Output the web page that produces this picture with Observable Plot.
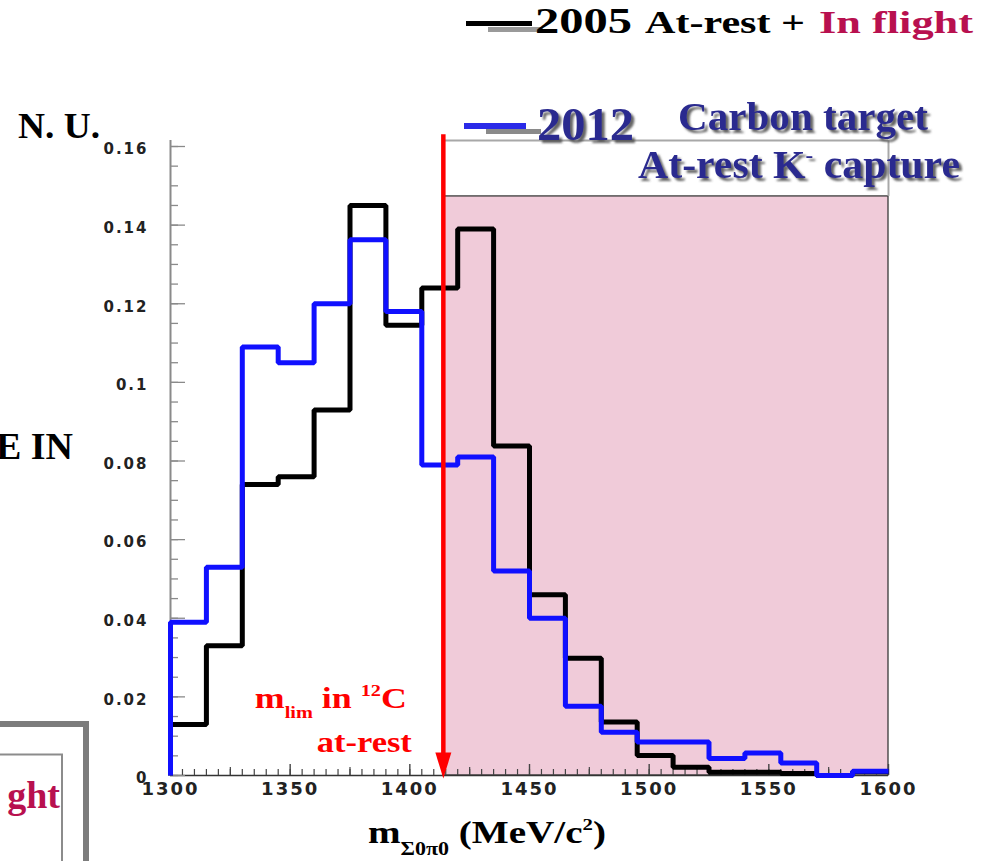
<!DOCTYPE html>
<html>
<head>
<meta charset="utf-8">
<script src="https://cdn.jsdelivr.net/npm/d3@7"></script>
<script src="https://cdn.jsdelivr.net/npm/@observablehq/plot@0.6"></script>
<style>
  html, body { margin: 0; padding: 0; background: #fff; }
  #chart { position: relative; width: 990px; height: 861px; overflow: hidden; background: #fff; }
  #chart svg { position: absolute; left: 0; top: 0; }
</style>
</head>
<body>
<div id="chart"></div>
<script>
// Σ0π0 invariant-mass spectra, 15 MeV/c² bins, normalised units
const binStart = [1300, 1315, 1330, 1345, 1360, 1375, 1390, 1405, 1420, 1435,
                  1450, 1465, 1480, 1495, 1510, 1525, 1540, 1555, 1570, 1585];
const binEnd = 1600;
const spectrum2005 = [0.013, 0.033, 0.074, 0.076, 0.093, 0.145, 0.1145, 0.124, 0.139, 0.0838,
                      0.046, 0.0298, 0.0136, 0.0051, 0.0021, 0.0008, 0.0008, 0.0005, 0, 0.001];
const spectrum2012 = [0.039, 0.053, 0.109, 0.105, 0.120, 0.1363, 0.118, 0.079, 0.081, 0.052,
                      0.040, 0.0176, 0.011, 0.0085, 0.0085, 0.0043, 0.0057, 0.0032, 0, 0.0011];

// kinematic limit for at-rest K- capture in 12C and the shaded region above it
const mLim = 1414;
const shadeTop = 0.1473;
const frameTop = 0.1615;
const arrowTop = 0.163;

// axes
const xTickLabels = [1300, 1350, 1400, 1450, 1500, 1550, 1600];
const xMidTicks = [1325, 1375, 1425, 1475, 1525, 1575];
const xMinorTicks = d3.range(1300, 1600.1, 5);
const yTickLabels = [0, 0.02, 0.04, 0.06, 0.08, 0.1, 0.12, 0.14, 0.16];
const yMinorTicks = d3.range(0, 0.16001, 0.005);

// histogram outline as a step path starting from zero at the left edge
function outline(values) {
  return [{x: binStart[0], y: 0},
          ...binStart.map((x, i) => ({x, y: values[i]})),
          {x: binEnd, y: values[values.length - 1]}];
}

// downward arrowhead with its tip at the anchor point
const arrowHead = {
  draw(context) {
    context.moveTo(0, 0);
    context.lineTo(-8, -26);
    context.lineTo(8, -26);
    context.closePath();
  }
};

const sans = "'DejaVu Sans', Verdana, sans-serif";

const plot = Plot.plot({
  width: 990,
  height: 861,
  marginLeft: 170,
  marginRight: 102,
  marginTop: 146,
  marginBottom: 86,
  x: {domain: [1300, 1600], axis: null},
  y: {domain: [0, 0.16], axis: null},
  style: {background: "transparent", overflow: "visible"},
  marks: [
    // shaded region above the limit
    Plot.rect([{x1: mLim, x2: binEnd, y1: 0, y2: shadeTop}],
      {x1: "x1", x2: "x2", y1: "y1", y2: "y2", fill: "#f0cbd9", stroke: "#3a3a3a", strokeWidth: 1.3}),
    // frame pieces
    Plot.ruleY([frameTop], {x1: mLim, x2: binEnd, stroke: "#a8a8a8", strokeWidth: 2}),
    Plot.ruleX([binEnd], {y1: shadeTop, y2: frameTop, stroke: "#a8a8a8", strokeWidth: 2}),
    Plot.ruleX([1300], {y1: 0, y2: frameTop, stroke: "#8a8a8a", strokeWidth: 2}),
    Plot.ruleY([0], {x1: 1300, x2: binEnd, stroke: "#333", strokeWidth: 1.6}),
    // x ticks (inward)
    Plot.ruleX(xMinorTicks, {x: d => d, y1: 0, y2: 0, insetTop: -6, stroke: "#444", strokeWidth: 1.2}),
    Plot.ruleX(xMidTicks, {x: d => d, y1: 0, y2: 0, insetTop: -8, stroke: "#444", strokeWidth: 1.2}),
    Plot.ruleX(xTickLabels, {x: d => d, y1: 0, y2: 0, insetTop: -11, stroke: "#444", strokeWidth: 1.4}),
    // y ticks (inward)
    Plot.ruleY(yMinorTicks, {y: d => d, x1: 1300, x2: 1300, insetRight: -8, stroke: "#8a8a8a", strokeWidth: 1.3}),
    Plot.ruleY(yTickLabels, {y: d => d, x1: 1300, x2: 1300, insetRight: -15, stroke: "#8a8a8a", strokeWidth: 1.3}),
    // spectra
    Plot.line(outline(spectrum2005), {x: "x", y: "y", curve: "step-after", stroke: "#000",
      strokeWidth: 5, strokeLinejoin: "miter", strokeLinecap: "butt"}),
    Plot.line(outline(spectrum2012), {x: "x", y: "y", curve: "step-after", stroke: "#1010ff",
      strokeWidth: 5, strokeLinejoin: "miter", strokeLinecap: "butt"}),
    // limit arrow
    Plot.ruleX([mLim], {y1: 0.005, y2: arrowTop, stroke: "#f00", strokeWidth: 4.5}),
    Plot.dot([mLim], {x: d => d, y: 0, symbol: arrowHead, fill: "#f00", stroke: "none", dy: 3}),
    // tick labels
    Plot.text(yTickLabels, {x: 1300, y: d => d, text: d => String(d), dx: -22, dy: 3,
      textAnchor: "end", fontFamily: sans, fontWeight: "bold", fontSize: 15, fill: "#222"}),
    Plot.text(xTickLabels, {x: d => d, y: 0, text: d => String(d), dy: 14,
      fontFamily: sans, fontWeight: "bold", fontSize: 18, fill: "#222"})
  ]
});

d3.select(plot).selectAll('g[aria-label="text"] text').attr("letter-spacing", 2);

const chart = document.getElementById("chart");
chart.appendChild(plot);

// ---- annotation layer ----
const xs = plot.scale("x"), ys = plot.scale("y");
const serif = "'Liberation Serif', 'Times New Roman', serif";
const navy = "#2b2b8f";
const crimson = "#b8104f";

const ov = d3.create("svg")
  .attr("width", 990).attr("height", 861)
  .attr("viewBox", "0 0 990 861")
  .style("pointer-events", "none");

ov.append("defs").append("filter").attr("id", "shadow")
  .attr("x", "-10%").attr("y", "-30%").attr("width", "130%").attr("height", "170%")
  .append("feDropShadow")
  .attr("dx", 3).attr("dy", 3).attr("stdDeviation", 1)
  .attr("flood-color", "#555").attr("flood-opacity", 0.9);

function txt(g, x, y, s, o = {}) {
  const t = g.append("text")
    .attr("x", x).attr("y", y)
    .attr("font-family", o.family || serif)
    .attr("font-size", o.size || 30)
    .attr("font-weight", o.weight || "bold")
    .attr("fill", o.fill || "#000");
  if (o.anchor) t.attr("text-anchor", o.anchor);
  if (o.len) t.attr("textLength", o.len).attr("lengthAdjust", "spacingAndGlyphs");
  if (o.filter) t.attr("filter", o.filter);
  if (s != null) t.text(s);
  return t;
}

// top legend: 2005 data
ov.append("rect").attr("x", 488).attr("y", 27).attr("width", 55).attr("height", 5).attr("fill", "#9a9a9a");
ov.append("rect").attr("x", 466).attr("y", 21).attr("width", 66).attr("height", 5).attr("fill", "#000");
txt(ov, 535, 33, "2005", {size: 35, weight: "bold", len: 97});
txt(ov, 645, 33, "At-rest +", {size: 31, len: 160});
txt(ov, 819, 33, "In flight", {size: 31, fill: crimson, len: 154});

// second legend: 2012 data, with drop shadows
ov.append("rect").attr("x", 486).attr("y", 129).attr("width", 55).attr("height", 5).attr("fill", "#8a8a8a");
ov.append("rect").attr("x", 464).attr("y", 123).attr("width", 62).attr("height", 6).attr("fill", "#2a2ae8");
txt(ov, 537, 140, "2012", {size: 46, fill: navy, len: 97, filter: "url(#shadow)"});
txt(ov, 678, 130, "Carbon target", {size: 40, fill: navy, len: 250, filter: "url(#shadow)"});
{
  const t = txt(ov, 638, 178, null, {size: 40, fill: navy, len: 322, filter: "url(#shadow)"});
  t.append("tspan").text("At-rest K");
  t.append("tspan").attr("font-size", 22).attr("dy", -16).text("-");
  t.append("tspan").attr("dy", 16).text(" capture");
}

// side labels
txt(ov, 18, 138, "N. U.", {size: 35, len: 82});
txt(ov, 73, 459, "E IN", {size: 38, anchor: "end"});

// bottom-left panel fragment
ov.append("rect").attr("x", -5).attr("y", 721).attr("width", 94).attr("height", 6).attr("fill", "#7c7c7c");
ov.append("rect").attr("x", 83).attr("y", 721).attr("width", 6).attr("height", 150).attr("fill", "#7c7c7c");
ov.append("path").attr("d", "M-5,754.5H62V870").attr("fill", "none").attr("stroke", "#8c8c8c").attr("stroke-width", 2);
txt(ov, 60, 808, "ght", {size: 38, fill: crimson, anchor: "end"});

// limit annotation, placed left of the arrow
{
  const xr = xs.apply(mLim) - 36;
  const t1 = txt(ov, xr, ys.apply(0.017), null, {size: 30, fill: "#f00", anchor: "end", len: 152});
  t1.append("tspan").text("m");
  t1.append("tspan").attr("font-size", 17).attr("dy", 10).text("lim");
  t1.append("tspan").attr("dy", -10).text(" in ");
  t1.append("tspan").attr("font-size", 17).attr("dy", -12).text("12");
  t1.append("tspan").attr("dy", 12).text("C");
  txt(ov, xr + 5, ys.apply(0.0059), "at-rest", {size: 30, fill: "#f00", anchor: "end", len: 95});
}

// x-axis title
{
  const t = txt(ov, 368, 843, null, {size: 32, len: 238});
  t.append("tspan").text("m");
  t.append("tspan").attr("font-size", 18).attr("dy", 12).text("Σ0π0");
  t.append("tspan").attr("dy", -12).text("  (MeV/c");
  t.append("tspan").attr("font-size", 17).attr("dy", -13).text("2");
  t.append("tspan").attr("dy", 13).text(")");
}

chart.appendChild(ov.node());
</script>
</body>
</html>
